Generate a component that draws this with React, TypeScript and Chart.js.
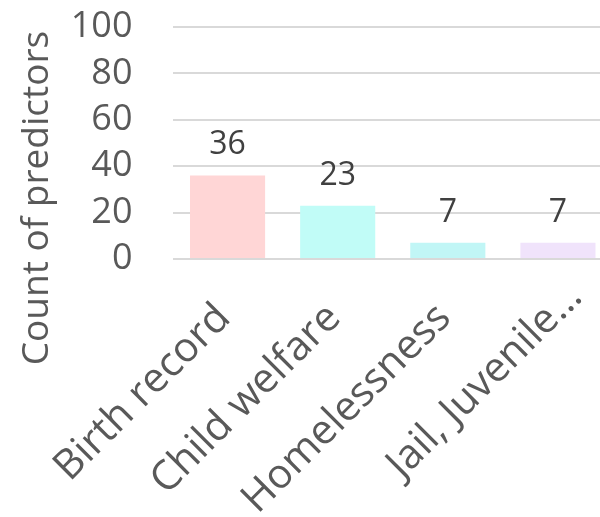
import React, { useEffect, useRef } from "react";
import { Chart, registerables } from "chart.js";

Chart.register(...registerables);

const categories = ["Birth record", "Child welfare", "Homelessness", "Jail, Juvenile…"];
const counts = [36, 23, 7, 7];
const barColors = ["#FFD6D6", "#C1FCF7", "#C1F6F6", "#F0E3FB"];
const yTicks = [0, 20, 40, 60, 80, 100];
const yTitle = "Count of predictors";
const FONT = "'Open Sans', sans-serif";

const valueLabels = {
  id: "valueLabels",
  afterDatasetsDraw(chart: any) {
    const ctx = chart.ctx;
    const meta = chart.getDatasetMeta(0);
    ctx.save();
    ctx.font = `32px ${FONT}`;
    ctx.fillStyle = "#404040";
    ctx.textAlign = "center";
    ctx.textBaseline = "alphabetic";
    meta.data.forEach((bar: any, i: number) => {
      ctx.fillText(String(chart.data.datasets[0].data[i]), bar.x, bar.y - 21);
    });
    ctx.restore();
  },
};

const axisTitle = {
  id: "axisTitle",
  afterDraw(chart: any) {
    const ctx = chart.ctx;
    ctx.save();
    ctx.translate(37, 198);
    ctx.rotate(-Math.PI / 2);
    ctx.font = `37px ${FONT}`;
    ctx.fillStyle = "#595959";
    ctx.textAlign = "center";
    ctx.textBaseline = "middle";
    ctx.fillText(yTitle, 0, 0);
    ctx.restore();
  },
};

// the truncated last category label sits further along its own direction in the reference
const lastLabelNudge = {
  id: "lastLabelNudge",
  beforeDraw(chart: any) {
    const items = chart.scales.x.getLabelItems();
    if (!items || (items as any).__nudged) return;
    const last = items[items.length - 1];
    if (last && last.options && last.options.translation) {
      last.options.translation = [last.options.translation[0] + 21, last.options.translation[1] - 21];
    }
    (items as any).__nudged = true;
  },
};

export default function App() {
  const ref = useRef<HTMLCanvasElement | null>(null);
  useEffect(() => {
    if (!ref.current) return;
    const chart = new Chart(ref.current, {
      type: "bar",
      data: {
        labels: categories,
        datasets: [
          {
            data: counts,
            backgroundColor: barColors,
            borderWidth: 0,
            categoryPercentage: 1,
            barPercentage: 0.682,
          },
        ],
      },
      options: {
        responsive: false,
        animation: false,
        events: [],
        layout: { padding: { top: 27, left: 0, right: 0, bottom: 0 } },
        plugins: { legend: { display: false }, tooltip: { enabled: false } },
        scales: {
          x: {
            grid: { display: false, drawTicks: false },
            border: { display: false },
            ticks: {
              autoSkip: false,
              minRotation: 45,
              maxRotation: 45,
              padding: 35,
              labelOffset: -3.5,
              color: "#595959",
              font: { family: FONT, size: 41 },
            },
            afterFit: (s: any) => {
              s.height = 258;
              s.paddingLeft = 0;
              s.paddingRight = 0;
            },
          },
          y: {
            min: 0,
            max: 100,
            afterBuildTicks: (s: any) => {
              s.ticks = yTicks.map((v) => ({ value: v }));
            },
            grid: { color: "#D9D9D9", lineWidth: 2, drawTicks: false },
            border: { display: false },
            ticks: {
              autoSkip: false,
              padding: 40,
              color: "#595959",
              font: { family: FONT, size: 36 },
            },
            afterFit: (s: any) => {
              s.width = 172.5;
              s.paddingTop = 0;
              s.paddingBottom = 0;
            },
          },
        },
      },
      plugins: [valueLabels, axisTitle, lastLabelNudge],
    });
    return () => chart.destroy();
  }, []);
  return (
    <div
      style={{
        position: "fixed",
        left: 0,
        top: 0,
        width: 600,
        height: 517,
        overflow: "hidden",
        background: "#fff",
      }}
    >
      <canvas ref={ref} width={613} height={517} style={{ display: "block" }} />
    </div>
  );
}
